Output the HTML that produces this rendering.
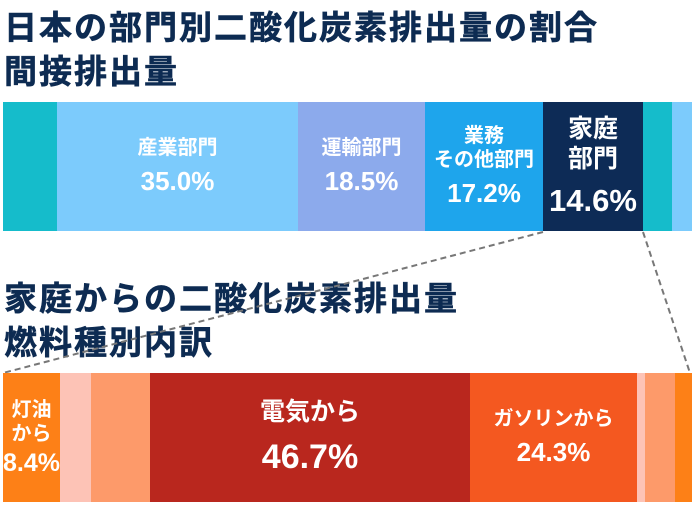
<!DOCTYPE html>
<html><head><meta charset="utf-8"><style>
body{margin:0;width:692px;height:512px;background:#fff;position:relative;overflow:hidden;font-family:"Liberation Sans","Noto Sans CJK JP",sans-serif}
.t{position:absolute;left:4px;color:#0d2b52;font-weight:bold;font-size:33px;line-height:44px;letter-spacing:2px;white-space:nowrap;-webkit-text-stroke:0.6px #0d2b52}
.s{position:absolute;display:flex;flex-direction:column;align-items:center;justify-content:center;color:#fff;font-weight:bold;text-align:center;line-height:1.2}
.l{font-size:20px}.p{font-size:26px;margin-top:6px}
</style></head><body>
<div class="t" style="top:6px">日本の部門別二酸化炭素排出量の割合<br>間接排出量</div>
<div class="t" style="top:277px">家庭からの二酸化炭素排出量<br>燃料種別内訳</div>

<div class="s" style="left:3px;top:102px;width:54px;height:129px;background:#15bccb"></div>
<div class="s" style="left:57px;top:102px;width:241px;height:129px;background:#7ccbfc"><div class="l">産業部門</div><div class="p">35.0%</div></div>
<div class="s" style="left:298px;top:102px;width:127px;height:129px;background:#8caaec"><div class="l">運輸部門</div><div class="p">18.5%</div></div>
<div class="s" style="left:425px;top:102px;width:118px;height:129px;background:#1ea5ec"><div class="l">業務<br>その他部門</div><div class="p">17.2%</div></div>
<div class="s" style="left:543px;top:102px;width:100px;height:129px;background:#0d2b56"><div style="font-size:25px">家庭<br>部門</div><div style="font-size:31px;margin-top:8px">14.6%</div></div>
<div class="s" style="left:643px;top:102px;width:29px;height:129px;background:#15bccb"></div>
<div class="s" style="left:672px;top:102px;width:20px;height:129px;background:#7ccbfc"></div>

<svg style="position:absolute;left:0;top:0" width="692" height="512"><g stroke="#777" stroke-width="2" stroke-dasharray="6,4" fill="none"><line x1="543" y1="232" x2="3" y2="373"/><line x1="643" y1="232" x2="690" y2="373"/></g></svg>

<div class="s" style="left:3px;top:373px;width:57px;height:129px;background:#fd8017"><div class="l">灯油<br>から</div><div class="p" style="margin-top:2px;font-size:25px">8.4%</div></div>
<div class="s" style="left:60px;top:373px;width:31px;height:129px;background:#fdc3b6"></div>
<div class="s" style="left:91px;top:373px;width:59px;height:129px;background:#fd9a6a"></div>
<div class="s" style="left:150px;top:373px;width:320px;height:129px;background:#b9271e"><div style="font-size:25px">電気から</div><div style="font-size:34px;margin-top:10px">46.7%</div></div>
<div class="s" style="left:470px;top:373px;width:167px;height:129px;background:#f45820"><div class="l">ガソリンから</div><div class="p">24.3%</div></div>
<div class="s" style="left:637px;top:373px;width:8px;height:129px;background:#fdc3b6"></div>
<div class="s" style="left:645px;top:373px;width:30px;height:129px;background:#fd9a6a"></div>
<div class="s" style="left:675px;top:373px;width:17px;height:129px;background:#fd8017"></div>
</body></html>
